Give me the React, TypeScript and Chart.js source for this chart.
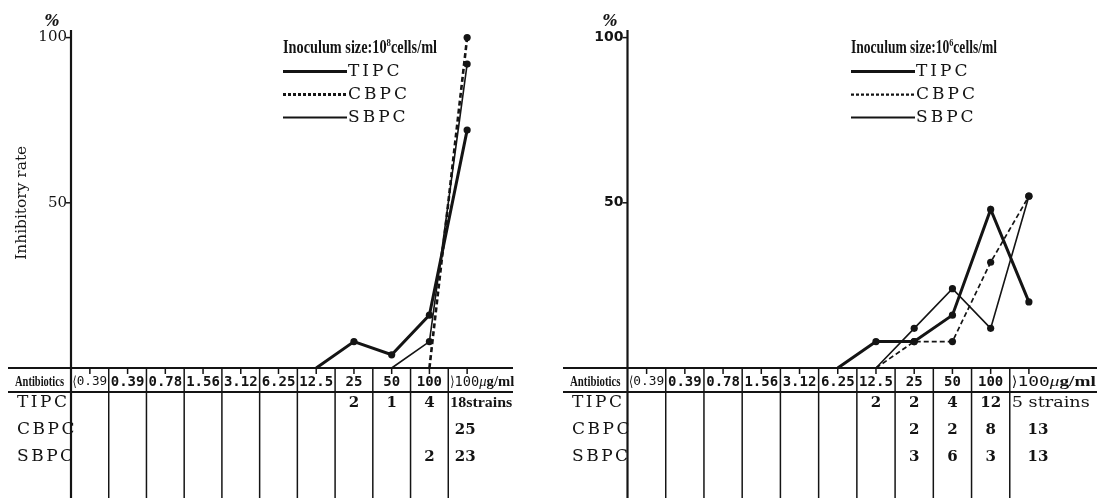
import React, { useEffect, useRef } from "react";
import { Chart, registerables } from "chart.js";

Chart.register(...registerables);

// ---------- data ----------
const concentrations = ["⟨0.39", "0.39", "0.78", "1.56", "3.12", "6.25", "12.5", "25", "50", "100", "⟩100"];
const antibiotics = ["TIPC", "CBPC", "SBPC"];
const yTicks = [50, 100];

// Inoculum size 10^8 cells/ml — inhibitory rate (%)
const tipcRate8 = [null, null, null, null, null, null, 0, 8, 4, 16, 72];
const cbpcRate8 = [null, null, null, null, null, null, null, null, null, 0, 100];
const sbpcRate8 = [null, null, null, null, null, null, null, null, 0, 8, 92];
// strain counts
const tipcCount8 = ["", "", "", "", "", "", "", "2", "1", "4", "18strains"];
const cbpcCount8 = ["", "", "", "", "", "", "", "", "", "", "25"];
const sbpcCount8 = ["", "", "", "", "", "", "", "", "", "2", "23"];

// Inoculum size 10^6 cells/ml — inhibitory rate (%)
const tipcRate6 = [null, null, null, null, null, 0, 8, 8, 16, 48, 20];
const cbpcRate6 = [null, null, null, null, null, null, 0, 8, 8, 32, 52];
const sbpcRate6 = [null, null, null, null, null, null, 0, 12, 24, 12, 52];
const tipcCount6 = ["", "", "", "", "", "", "2", "2", "4", "12", "5 strains"];
const cbpcCount6 = ["", "", "", "", "", "", "", "2", "2", "8", "13"];
const sbpcCount6 = ["", "", "", "", "", "", "", "3", "6", "3", "13"];

const INK = "#141414";
const SERIF = '"DejaVu Serif", "Liberation Serif", serif';
const LSERIF = '"Liberation Serif", "DejaVu Serif", serif';
const MONO = '"DejaVu Sans Mono", "Liberation Mono", monospace';
const SANS = '"DejaVu Sans", sans-serif';

type Part = { text: string; font: string; dy?: number; sx?: number };

// width: exact fit; shrinkOnly: only compress when wider
function drawRich(
  ctx: CanvasRenderingContext2D,
  x: number,
  y: number,
  parts: Part[],
  width?: number,
  align: "left" | "center" | "right" = "left",
  shrinkOnly = false
) {
  ctx.save();
  ctx.textBaseline = "middle";
  ctx.textAlign = "left";
  let total = 0;
  const ws = parts.map((p) => {
    ctx.font = p.font;
    const w = ctx.measureText(p.text).width * (p.sx || 1);
    total += w;
    return w;
  });
  let sx = width ? width / total : 1;
  if (shrinkOnly && sx > 1) sx = 1;
  const drawn = total * sx;
  let sxPos = x;
  if (align === "center") sxPos = x - drawn / 2;
  if (align === "right") sxPos = x - drawn;
  ctx.translate(sxPos, y);
  ctx.scale(sx, 1);
  let cx = 0;
  parts.forEach((p, i) => {
    ctx.save();
    ctx.font = p.font;
    ctx.translate(cx, 0);
    ctx.scale(p.sx || 1, 1);
    ctx.fillText(p.text, 0, p.dy || 0);
    ctx.restore();
    cx += ws[i];
  });
  ctx.restore();
}

type Panel = {
  canvasX: number;
  canvasW: number;
  padLeft: number;
  padRight: number;
  lineStart: number;
  lineEnd: number;
  exp: string;
  rates: (number | null)[][];
  counts: string[][];
  legendX: number;
  legendLineEnd: number;
  titleWidth: number;
  pctX: number;
  showYTitle: boolean;
  yLabelFont: string;
  cbpcWidth: number;
  lastNumDx: number;
  strainsWidth: number;
  strainsFont: string;
  unitWidth: number;
};

const panels: Panel[] = [
  {
    canvasX: 0,
    canvasW: 549,
    padLeft: 71,
    padRight: 63,
    lineStart: 8,
    lineEnd: 513,
    exp: "8",
    rates: [tipcRate8, cbpcRate8, sbpcRate8],
    counts: [tipcCount8, cbpcCount8, sbpcCount8],
    legendX: 283,
    legendLineEnd: 347,
    titleWidth: 154,
    pctX: 52,
    showYTitle: true,
    yLabelFont: `15px ${SERIF}`,
    cbpcWidth: 2.6,
    lastNumDx: -2,
    strainsWidth: 62,
    strainsFont: `bold 15px ${LSERIF}`,
    unitWidth: 64,
  },
  {
    canvasX: 549,
    canvasW: 548,
    padLeft: 78.5,
    padRight: 49,
    lineStart: 14,
    lineEnd: 548,
    exp: "6",
    rates: [tipcRate6, cbpcRate6, sbpcRate6],
    counts: [tipcCount6, cbpcCount6, sbpcCount6],
    legendX: 302,
    legendLineEnd: 366,
    titleWidth: 146,
    pctX: 61,
    showYTitle: false,
    yLabelFont: `bold 14px ${SANS}`,
    cbpcWidth: 1.7,
    lastNumDx: 9,
    strainsWidth: 78,
    strainsFont: `15px ${SERIF}`,
    unitWidth: 84,
  },
];

function makePlugin(panel: Panel) {
  return {
    id: "tableAndAxes",
    beforeDatasetsDraw(chart: any) {
      const ctx: CanvasRenderingContext2D = chart.ctx;
      const xs = chart.scales.x;
      const ys = chart.scales.y;
      const area = chart.chartArea;
      const y0 = ys.getPixelForValue(0);
      const n = concentrations.length;
      const colW = xs.width / n;
      const bottom = chart.height;
      const line = (x1: number, y1: number, x2: number, y2: number) => {
        ctx.beginPath();
        ctx.moveTo(x1, y1);
        ctx.lineTo(x2, y2);
        ctx.stroke();
      };
      ctx.save();
      ctx.strokeStyle = INK;
      ctx.fillStyle = INK;
      ctx.lineCap = "butt";

      // axes
      ctx.lineWidth = 2.2;
      line(panel.lineStart, y0, panel.lineEnd, y0);
      line(area.left, area.top - 1, area.left, bottom);
      // header underline
      ctx.lineWidth = 2;
      line(panel.lineStart, y0 + 24, panel.lineEnd, y0 + 24);
      // column borders
      ctx.lineWidth = 1.5;
      for (let k = 1; k < n; k++) {
        const x = area.left + k * colW;
        line(x, y0, x, bottom);
      }
      // centre ticks
      concentrations.forEach((_, i) => {
        const x = xs.getPixelForValue(i);
        line(x, y0, x, y0 + 6);
      });
      // y ticks + labels
      yTicks.forEach((v) => {
        const y = ys.getPixelForValue(v);
        ctx.lineWidth = 1.5;
        line(area.left - 5, y, area.left, y);
        drawRich(ctx, area.left - 4, y, [{ text: String(v), font: panel.yLabelFont }], undefined, "right");
      });
      // percent sign
      drawRich(ctx, panel.pctX, ys.getPixelForValue(100) - 16, [{ text: "%", font: `italic bold 16px ${SERIF}` }], 15, "center");
      // y title
      if (panel.showYTitle) {
        ctx.save();
        ctx.translate(22, ys.getPixelForValue(50));
        ctx.rotate(-Math.PI / 2);
        drawRich(ctx, 0, 0, [{ text: "Inhibitory rate", font: `15px ${SERIF}` }], 114, "center");
        ctx.restore();
      }

      // table header
      const hy = y0 + 14;
      drawRich(
        ctx,
        (panel.lineStart + area.left) / 2,
        hy,
        [{ text: "Antibiotics", font: `bold 15px ${LSERIF}` }],
        area.left - panel.lineStart - 14,
        "center"
      );
      concentrations.forEach((c, i) => {
        const cx = xs.getPixelForValue(i);
        const bracket = c.startsWith("⟨") || c.startsWith("⟩");
        const body = bracket ? c.slice(1) : c;
        const parts: Part[] = [];
        if (bracket) parts.push({ text: c[0], font: `14px ${SANS}`, sx: 0.8 });
        if (i === n - 1) {
          parts.push({ text: body, font: `14px ${MONO}` });
          parts.push({ text: "μ", font: `italic 15px ${LSERIF}` });
          parts.push({ text: "g/ml", font: `bold 15px ${LSERIF}` });
          drawRich(ctx, cx - colW / 2 + 2, hy, parts, panel.unitWidth, "left");
        } else {
          parts.push({ text: body, font: `${bracket ? "13px" : "bold 14px"} ${MONO}` });
          drawRich(ctx, cx, hy, parts, colW - 3, "center", true);
        }
      });

      // table rows
      const rowY = [y0 + 35, y0 + 62, y0 + 89];
      antibiotics.forEach((a, r) => {
        ctx.save();
        (ctx as any).letterSpacing = "2.5px";
        ctx.font = `17px ${SERIF}`;
        ctx.textBaseline = "middle";
        ctx.textAlign = "left";
        ctx.fillText(a, panel.lineStart + 9, rowY[r]);
        ctx.restore();
        panel.counts[r].forEach((t, i) => {
          if (!t) return;
          const cx = xs.getPixelForValue(i);
          if (t.includes("strains")) {
            drawRich(ctx, cx - colW / 2 + 2, rowY[r], [{ text: t, font: panel.strainsFont }], panel.strainsWidth, "left");
          } else {
            const dx = i === n - 1 ? panel.lastNumDx : 0;
            drawRich(ctx, cx + dx, rowY[r], [{ text: t, font: `bold 15px ${SERIF}` }], undefined, "center");
          }
        });
      });

      // legend
      const ly = ys.getPixelForValue(100);
      const tY = ly + 11;
      drawRich(
        ctx,
        panel.legendX,
        tY,
        [
          { text: "Inoculum size:10", font: `bold 18px ${LSERIF}` },
          { text: panel.exp, font: `bold 11px ${LSERIF}`, dy: -5 },
          { text: "cells/ml", font: `bold 18px ${LSERIF}` },
        ],
        panel.titleWidth,
        "left"
      );
      const legendRows = [tY + 23, tY + 46, tY + 69];
      const styles = [
        { w: 3, dash: [] as number[] },
        { w: panel.cbpcWidth + 0.4, dash: [3, 2] },
        { w: 2, dash: [] as number[] },
      ];
      antibiotics.forEach((a, r) => {
        ctx.save();
        ctx.lineWidth = styles[r].w;
        ctx.setLineDash(styles[r].dash);
        line(panel.legendX, legendRows[r], panel.legendLineEnd, legendRows[r]);
        ctx.restore();
        ctx.save();
        (ctx as any).letterSpacing = "3px";
        ctx.font = `17px ${SERIF}`;
        ctx.textBaseline = "middle";
        ctx.textAlign = "left";
        ctx.fillText(a, panel.legendLineEnd + 1, legendRows[r]);
        ctx.restore();
      });
      ctx.restore();
    },
  };
}

function PanelChart({ panel }: { panel: Panel }) {
  const ref = useRef<HTMLCanvasElement | null>(null);
  useEffect(() => {
    if (!ref.current) return;
    const radius = (c: any) => (c.raw === 0 || c.raw === null ? 0 : 3.6);
    const chart = new Chart(ref.current, {
      type: "line",
      data: {
        labels: concentrations,
        datasets: [
          {
            label: "TIPC",
            data: panel.rates[0],
            borderColor: INK,
            backgroundColor: INK,
            borderWidth: 3,
            pointRadius: radius,
            pointBorderWidth: 0,
            tension: 0,
            clip: false,
          },
          {
            label: "CBPC",
            data: panel.rates[1],
            borderColor: INK,
            backgroundColor: INK,
            borderWidth: panel.cbpcWidth,
            borderDash: [5, 3],
            pointRadius: radius,
            pointBorderWidth: 0,
            tension: 0,
            clip: false,
          },
          {
            label: "SBPC",
            data: panel.rates[2],
            borderColor: INK,
            backgroundColor: INK,
            borderWidth: 1.6,
            pointRadius: radius,
            pointBorderWidth: 0,
            tension: 0,
            clip: false,
          },
        ] as any,
      },
      options: {
        animation: false,
        responsive: false,
        devicePixelRatio: 1,
        layout: {
          autoPadding: false,
          padding: { left: panel.padLeft, right: panel.padRight, top: 31, bottom: 130 },
        },
        scales: {
          x: { type: "category", offset: true, display: false },
          y: { type: "linear", min: 0, max: 102, display: false },
        },
        plugins: {
          legend: { display: false },
          tooltip: { enabled: false },
        },
        events: [],
      } as any,
      plugins: [makePlugin(panel)],
    });
    return () => chart.destroy();
  }, [panel]);
  return (
    <canvas
      ref={ref}
      width={panel.canvasW}
      height={498}
      style={{ position: "absolute", left: panel.canvasX, top: 0, width: panel.canvasW, height: 498 }}
    />
  );
}

export default function App() {
  return (
    <div style={{ position: "fixed", left: 0, top: 0, width: 1097, height: 498, background: "#fff", overflow: "hidden" }}>
      {panels.map((p, i) => (
        <PanelChart key={i} panel={p} />
      ))}
    </div>
  );
}
